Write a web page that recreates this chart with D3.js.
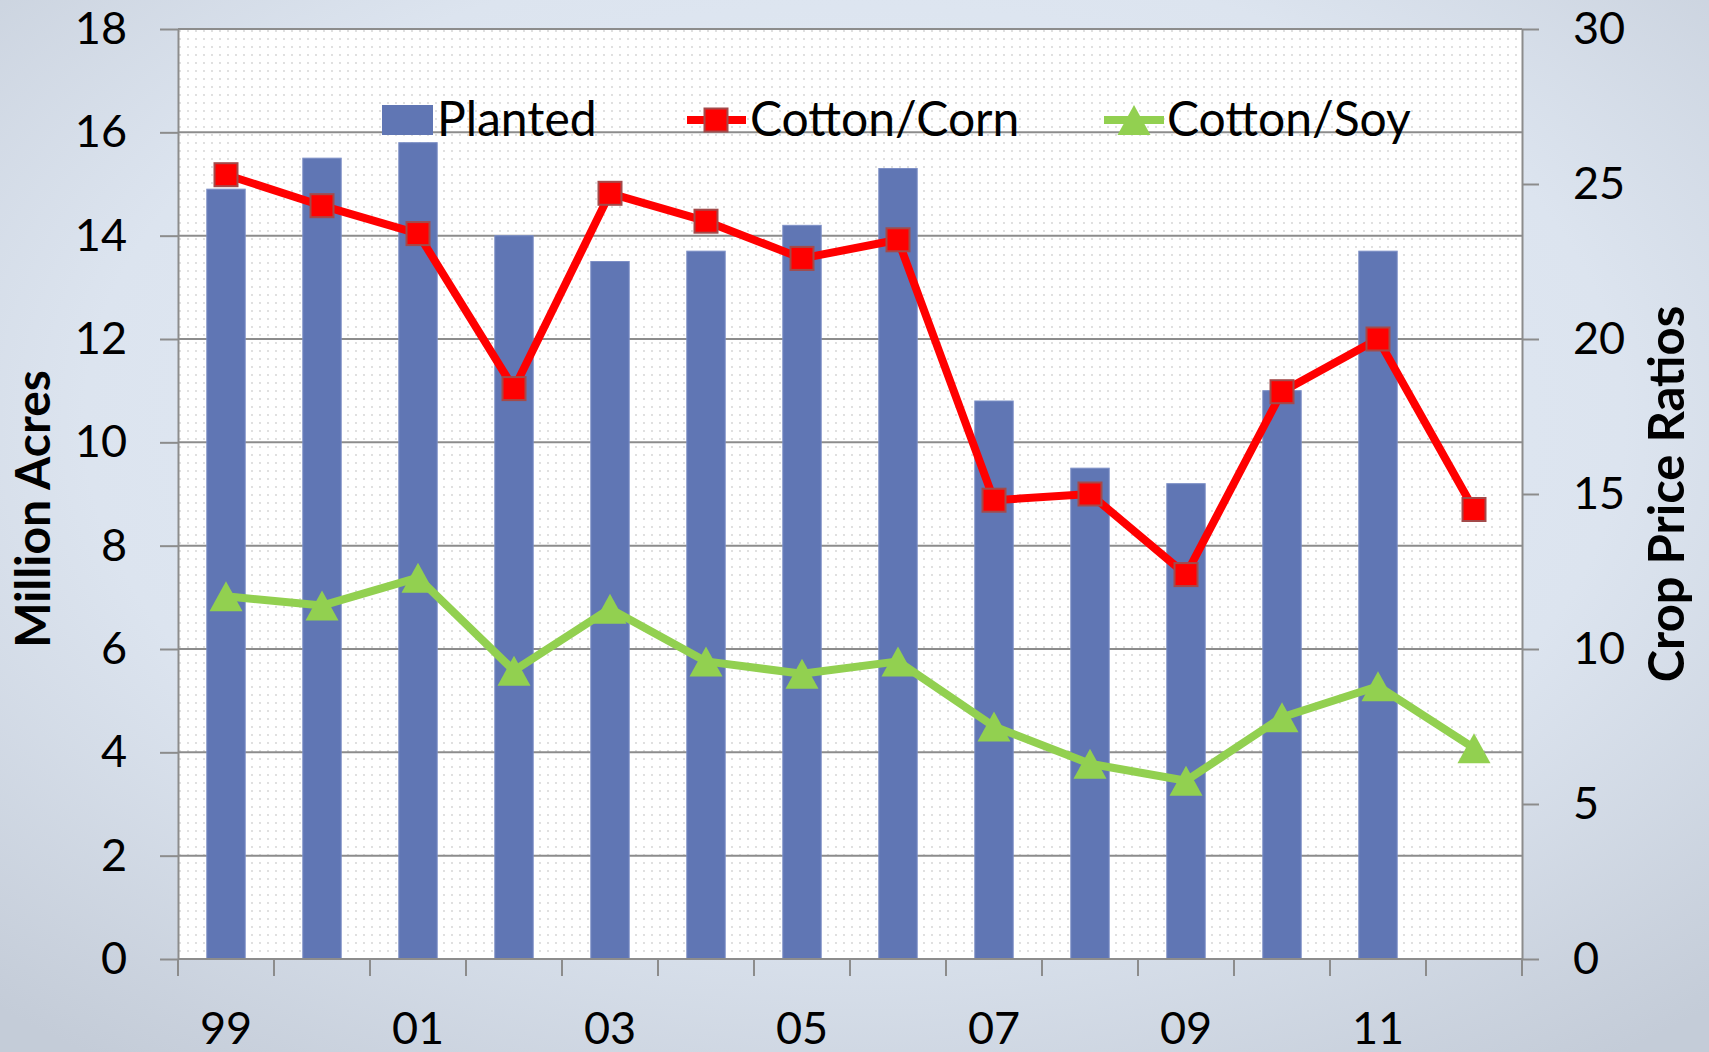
<!DOCTYPE html>
<html>
<head>
<meta charset="utf-8">
<script src="https://cdn.jsdelivr.net/npm/d3@7"></script>
<style>
  body { margin: 0; overflow: hidden; }
  #box { width: 1709px; height: 1052px; }
  text { font-family: Lato, "Open Sans", sans-serif; fill: #000; }
</style>
</head>
<body>
<div id="box"></div>
<script>
// data
const years = ['99', '00', '01', '02', '03', '04', '05', '06', '07', '08', '09', '10', '11', '12'];
const planted = [14.9, 15.5, 15.8, 14.0, 13.5, 13.7, 14.2, 15.3, 10.8, 9.5, 9.2, 11.0, 13.7, null];
const cottonCorn = [25.3, 24.3, 23.4, 18.4, 24.7, 23.8, 22.6, 23.2, 14.8, 15.0, 12.4, 18.3, 20.0, 14.5];
const cottonSoy = [11.7, 11.4, 12.3, 9.3, 11.3, 9.6, 9.2, 9.6, 7.5, 6.3, 5.75, 7.8, 8.8, 6.8];
const xLabels = ['99', '01', '03', '05', '07', '09', '11'];
const leftTicks = [0, 2, 4, 6, 8, 10, 12, 14, 16, 18];
const rightTicks = [0, 5, 10, 15, 20, 25, 30];
const legendNames = ['Planted', 'Cotton/Corn', 'Cotton/Soy'];

const width = 1709;
const height = 1052;
const padLeft = 178;
const padRight = 187;
const padTop = 29;
const padBottom = 93;
const innerWidth = width - padLeft - padRight;
const innerHeight = height - padTop - padBottom;

const barColor = '#6076b4';
const redColor = '#ff0000';
const greenColor = '#92d050';
const gridColor = '#8c8c8c';

const svg = d3.select('#box').append('svg')
  .attr('width', width)
  .attr('height', height);

// background gradient + dotted plot fill
const defs = svg.append('defs');
const bg = defs.append('radialGradient')
  .attr('id', 'bg')
  .attr('cx', '50%').attr('cy', '40%').attr('r', '75%');
bg.append('stop').attr('offset', '0%').attr('stop-color', '#e4ecf7');
bg.append('stop').attr('offset', '60%').attr('stop-color', '#dce4ef');
bg.append('stop').attr('offset', '100%').attr('stop-color', '#c4ccd8');

const dots = defs.append('pattern')
  .attr('id', 'dots')
  .attr('patternUnits', 'userSpaceOnUse')
  .attr('width', 8).attr('height', 8);
dots.append('rect').attr('width', 8).attr('height', 8).attr('fill', '#fff');
dots.append('circle').attr('cx', 2).attr('cy', 2).attr('r', 0.9).attr('fill', '#d2d2d2');

svg.append('rect')
  .attr('width', width).attr('height', height)
  .attr('fill', 'url(#bg)');

const pad = svg.append('g')
  .attr('transform', `translate(${padLeft}, ${padTop})`);

pad.append('rect')
  .attr('width', innerWidth).attr('height', innerHeight)
  .attr('fill', 'url(#dots)');

// scales
const x = d3.scaleBand().domain(years).range([0, innerWidth]);
const yLeft = d3.scaleLinear().domain([0, 18]).range([innerHeight, 0]);
const yRight = d3.scaleLinear().domain([0, 30]).range([innerHeight, 0]);
const barWidth = x.bandwidth() * 0.4;

// gridlines
pad.selectAll('.grid').data(leftTicks.filter(d => d > 0))
  .join('line')
  .attr('class', 'grid')
  .attr('x1', 0).attr('x2', innerWidth)
  .attr('y1', d => yLeft(d)).attr('y2', d => yLeft(d))
  .attr('stroke', gridColor)
  .attr('stroke-width', 2);

// bars
pad.selectAll('.bar').data(years.map((y, i) => ({ y, v: planted[i] })).filter(d => d.v != null))
  .join('rect')
  .attr('class', 'bar')
  .attr('x', d => x(d.y) + (x.bandwidth() - barWidth) / 2)
  .attr('y', d => yLeft(d.v))
  .attr('width', barWidth)
  .attr('height', d => innerHeight - yLeft(d.v))
  .attr('fill', barColor)
  .attr('stroke', '#7d8fc6')
  .attr('stroke-width', 1);

// axes
const styleAxis = g => {
  g.attr('font-size', null).attr('font-family', null);
  g.select('.domain').attr('stroke', gridColor).attr('stroke-width', 2);
  g.selectAll('.tick line').attr('stroke', gridColor).attr('stroke-width', 2);
  g.selectAll('.tick text').style('font-size', '45px').attr('fill', '#000');
};

pad.append('g')
  .call(d3.axisLeft(yLeft).tickValues(leftTicks).tickSize(18).tickPadding(33).tickSizeOuter(0))
  .call(styleAxis);

pad.append('g')
  .attr('transform', `translate(${innerWidth}, 0)`)
  .call(d3.axisRight(yRight).tickValues(rightTicks).tickSize(17).tickPadding(34).tickSizeOuter(0))
  .call(styleAxis);

// bottom axis: ticks on category boundaries, labels on every other year
const xAxis = pad.append('g')
  .attr('transform', `translate(0, ${innerHeight})`);
xAxis.append('line')
  .attr('x1', 0).attr('x2', innerWidth)
  .attr('stroke', gridColor).attr('stroke-width', 2);
xAxis.selectAll('.xtick').data(years.map(d => x(d)).concat([innerWidth]))
  .join('line')
  .attr('class', 'xtick')
  .attr('x1', d => d).attr('x2', d => d)
  .attr('y1', 0).attr('y2', 17)
  .attr('stroke', gridColor).attr('stroke-width', 2);
xAxis.selectAll('.xlabel').data(xLabels)
  .join('text')
  .attr('class', 'xlabel')
  .attr('x', d => x(d) + x.bandwidth() / 2)
  .attr('y', 85)
  .attr('text-anchor', 'middle')
  .style('font-size', '45px')
  .text(d => d);

// lines
const lineData = [
  { name: 'corn', values: cottonCorn, color: redColor },
  { name: 'soy', values: cottonSoy, color: greenColor }
];
const line = d3.line()
  .x((d, i) => x(years[i]) + x.bandwidth() / 2)
  .y(d => yRight(d));

pad.selectAll('.series').data(lineData)
  .join('path')
  .attr('class', 'series')
  .attr('d', d => line(d.values))
  .attr('fill', 'none')
  .attr('stroke', d => d.color)
  .attr('stroke-width', 8)
  .attr('stroke-linejoin', 'round');

// markers
const square = 23;
pad.selectAll('.sq').data(cottonCorn)
  .join('rect')
  .attr('class', 'sq')
  .attr('x', (d, i) => x(years[i]) + x.bandwidth() / 2 - square / 2)
  .attr('y', d => yRight(d) - square / 2)
  .attr('width', square).attr('height', square)
  .attr('fill', redColor)
  .attr('stroke', '#a34a4a')
  .attr('stroke-width', 2);

const tri = (cx, cy) => `M${cx},${cy - 15} L${cx + 16.5},${cy + 15} L${cx - 16.5},${cy + 15} Z`;
pad.selectAll('.tri').data(cottonSoy)
  .join('path')
  .attr('class', 'tri')
  .attr('d', (d, i) => tri(x(years[i]) + x.bandwidth() / 2, yRight(d)))
  .attr('fill', greenColor);

// legend
const legend = svg.append('g');
legend.append('rect')
  .attr('x', 382).attr('y', 105).attr('width', 51).attr('height', 30)
  .attr('fill', barColor);
legend.append('line')
  .attr('x1', 687).attr('x2', 746).attr('y1', 120).attr('y2', 120)
  .attr('stroke', redColor).attr('stroke-width', 8);
legend.append('rect')
  .attr('x', 716 - square / 2).attr('y', 120 - square / 2)
  .attr('width', square).attr('height', square)
  .attr('fill', redColor).attr('stroke', '#a34a4a').attr('stroke-width', 2);
legend.append('line')
  .attr('x1', 1104).attr('x2', 1164).attr('y1', 120).attr('y2', 120)
  .attr('stroke', greenColor).attr('stroke-width', 8);
legend.append('path')
  .attr('d', tri(1134, 120))
  .attr('fill', greenColor);

legend.selectAll('.ltext').data(legendNames)
  .join('text')
  .attr('class', 'ltext')
  .attr('x', (d, i) => [437, 750, 1167][i])
  .attr('y', 136)
  .style('font-size', '48px')
  .text(d => d);

// axis titles
svg.append('text')
  .attr('transform', 'translate(50, 509) rotate(-90)')
  .attr('text-anchor', 'middle')
  .style('font-size', '48px')
  .style('font-weight', 'bold')
  .text('Million Acres');

svg.append('text')
  .attr('transform', 'translate(1684, 494) rotate(-90)')
  .attr('text-anchor', 'middle')
  .style('font-size', '49px')
  .style('font-weight', 'bold')
  .text('Crop Price Ratios');
</script>
</body>
</html>
